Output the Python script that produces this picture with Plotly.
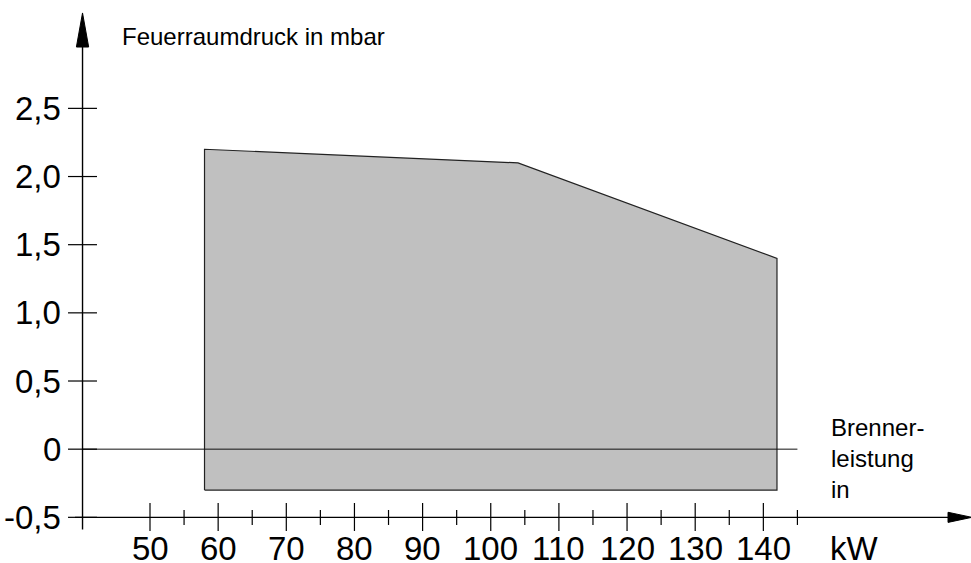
import plotly.graph_objects as go

# ---- data ----
x_ticks_major = [50, 60, 70, 80, 90, 100, 110, 120, 130, 140]
x_tick_labels = ["50", "60", "70", "80", "90", "100", "110", "120", "130", "140"]
x_ticks_minor = [55, 65, 75, 85, 95, 105, 115, 125, 135, 145]
y_ticks = [2.5, 2.0, 1.5, 1.0, 0.5, 0.0, -0.5]
y_tick_labels = ["2,5", "2,0", "1,5", "1,0", "0,5", "0", "-0,5"]
region_kw = [58, 58, 104, 142, 142, 58]
region_mbar = [-0.3, 2.2, 2.1, 1.4, -0.3, -0.3]

FONT = "Arial, Liberation Sans, sans-serif"
X0 = 40.1      # y-axis position (kW)
Y0 = -0.5      # x-axis position (mbar)

fig = go.Figure()

# operating region
fig.add_trace(go.Scatter(x=region_kw, y=region_mbar, mode="lines", fill="toself",
                         fillcolor="#c0c0c0", line=dict(color="#222", width=1.2),
                         hoverinfo="skip"))
# zero line
fig.add_trace(go.Scatter(x=[X0, 145], y=[0, 0], mode="lines",
                         line=dict(color="#111", width=1), hoverinfo="skip"))

# axes
fig.add_trace(go.Scatter(x=[X0, X0], y=[-0.59, 2.96], mode="lines",
                         line=dict(color="black", width=1.4), hoverinfo="skip"))
fig.add_trace(go.Scatter(x=[39.0, 167.5], y=[Y0, Y0], mode="lines",
                         line=dict(color="black", width=1.4), hoverinfo="skip"))
# arrow heads
fig.add_trace(go.Scatter(x=[X0 - 0.9, X0, X0 + 0.9, X0 - 0.9], y=[2.95, 3.2, 2.95, 2.95],
                         mode="lines", fill="toself", fillcolor="black",
                         line=dict(color="black", width=1), hoverinfo="skip"))
fig.add_trace(go.Scatter(x=[167.1, 170.6, 167.1, 167.1], y=[Y0 + 0.037, Y0, Y0 - 0.037, Y0 + 0.037],
                         mode="lines", fill="toself", fillcolor="black",
                         line=dict(color="black", width=1), hoverinfo="skip"))

# y ticks
yt_x, yt_y = [], []
for v in y_ticks:
    yt_x += [37.97, 42.22, None]
    yt_y += [v, v, None]
fig.add_trace(go.Scatter(x=yt_x, y=yt_y, mode="lines",
                         line=dict(color="black", width=1.2), hoverinfo="skip"))
# x ticks
xt_x, xt_y = [], []
for k in x_ticks_major:
    xt_x += [k, k, None]
    xt_y += [-0.395, -0.6, None]
for k in x_ticks_minor:
    xt_x += [k, k, None]
    xt_y += [-0.446, -0.556, None]
fig.add_trace(go.Scatter(x=xt_x, y=xt_y, mode="lines",
                         line=dict(color="black", width=1.2), hoverinfo="skip"))

ann = []
for v, t in zip(y_ticks, y_tick_labels):
    ann.append(dict(x=37.3, y=v, text=t, xanchor="right", yanchor="middle",
                    showarrow=False, font=dict(size=33, color="black", family=FONT)))
for k, t in zip(x_ticks_major, x_tick_labels):
    ann.append(dict(x=k, y=-0.725, text=t, xanchor="center", yanchor="middle",
                    showarrow=False, font=dict(size=33, color="black", family=FONT)))
ann.append(dict(x=149.5, y=-0.725, text="kW", xanchor="left", yanchor="middle",
                showarrow=False, font=dict(size=33, color="black", family=FONT)))
ann.append(dict(x=45.6, y=3.024, text="Feuerraumdruck in mbar", xanchor="left", yanchor="middle",
                showarrow=False, font=dict(size=24, color="black", family=FONT)))
ann.append(dict(x=149.6, y=-0.07, text="Brenner-<br>leistung<br>in", xanchor="left",
                yanchor="middle", align="left",
                showarrow=False, font=dict(size=24, color="black", family=FONT)))

fig.update_layout(
    width=971, height=563, margin=dict(l=0, r=0, t=0, b=0),
    paper_bgcolor="white", plot_bgcolor="white", showlegend=False,
    xaxis=dict(range=[27.99, 170.47], visible=False, fixedrange=True),
    yaxis=dict(range=[-0.835, 3.295], visible=False, fixedrange=True),
    annotations=ann,
)
fig.write_html("out.html", config={"displayModeBar": False},
               post_script="document.body.style.margin='0';document.body.style.overflow='hidden';")
